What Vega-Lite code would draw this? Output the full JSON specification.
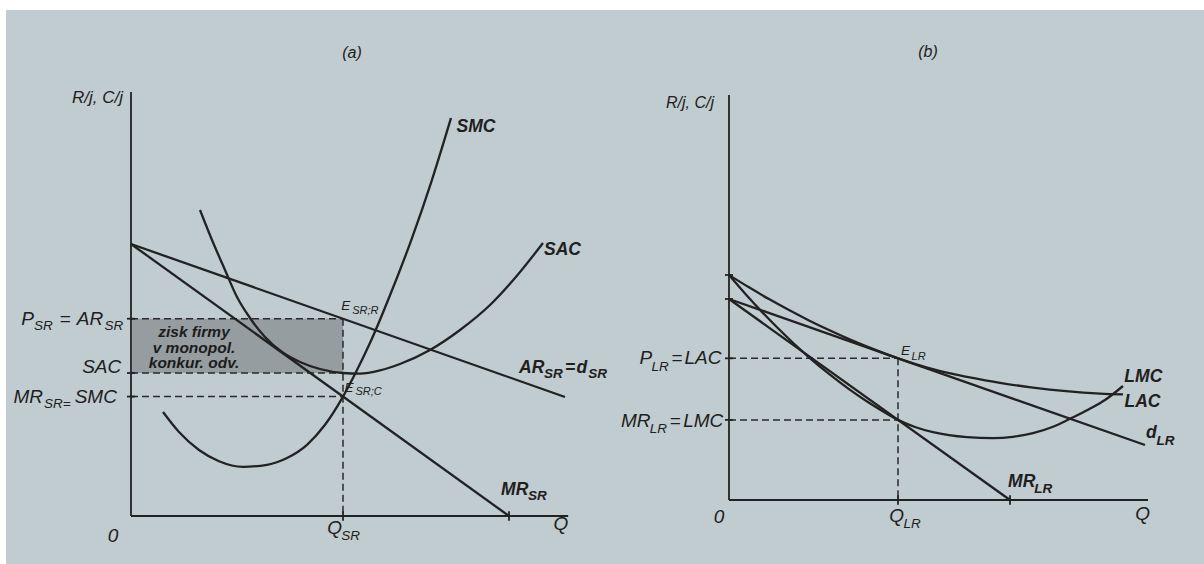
{
  "$schema": "https://vega.github.io/schema/vega-lite/v6.json",
  "background": "white",
  "padding": {"left": 6, "top": 10, "right": 0, "bottom": 0},
  "spacing": 0,
  "bounds": "flush",
  "config": {
    "view": {"stroke": null, "fill": "#c1ccd0"},
    "text": {"font": "Liberation Sans", "color": "#202020"}
  },
  "datasets": {
    "a_axes": [
      {"q": 0, "p": 0, "q2": 0, "p2": 10.6},
      {"q": 0, "p": 0, "q2": 10.93, "p2": 0},
      {"q": -0.1, "p": 4.932, "q2": 0.1, "p2": 4.932},
      {"q": -0.1, "p": 3.575, "q2": 0.1, "p2": 3.575},
      {"q": -0.1, "p": 2.986, "q2": 0.1, "p2": 2.986},
      {"q": 5.3, "p": -0.12, "q2": 5.3, "p2": 0.12},
      {"q": 9.45, "p": -0.12, "q2": 9.45, "p2": 0.12}
    ],
    "a_dash": [
      {"q": 0, "p": 4.932, "q2": 5.3, "p2": 4.932},
      {"q": 0, "p": 3.575, "q2": 5.3, "p2": 3.575},
      {"q": 0, "p": 2.986, "q2": 5.3, "p2": 2.986},
      {"q": 5.3, "p": 4.932, "q2": 5.3, "p2": 0}
    ],
    "a_box": [{"q": 0.03, "p": 3.575, "q2": 5.3, "p2": 4.932}],
    "a_curves": [
      {"curve": "AR", "q": 0, "p": 6.8},
      {"curve": "AR", "q": 10.85, "p": 2.975},
      {"curve": "MR", "q": 0, "p": 6.8},
      {"curve": "MR", "q": 9.45, "p": 0},
      {"curve": "SAC", "q": 1.725, "p": 7.65},
      {"curve": "SAC", "q": 2.025, "p": 6.9},
      {"curve": "SAC", "q": 2.35, "p": 6.15},
      {"curve": "SAC", "q": 2.65, "p": 5.475},
      {"curve": "SAC", "q": 2.975, "p": 4.95},
      {"curve": "SAC", "q": 3.35, "p": 4.475},
      {"curve": "SAC", "q": 3.775, "p": 4.1},
      {"curve": "SAC", "q": 4.225, "p": 3.85},
      {"curve": "SAC", "q": 4.725, "p": 3.675},
      {"curve": "SAC", "q": 5.3, "p": 3.575},
      {"curve": "SAC", "q": 5.725, "p": 3.56},
      {"curve": "SAC", "q": 6.225, "p": 3.64},
      {"curve": "SAC", "q": 6.725, "p": 3.8},
      {"curve": "SAC", "q": 7.475, "p": 4.15},
      {"curve": "SAC", "q": 8.225, "p": 4.65},
      {"curve": "SAC", "q": 8.975, "p": 5.275},
      {"curve": "SAC", "q": 9.6, "p": 5.95},
      {"curve": "SAC", "q": 10.3, "p": 6.825},
      {"curve": "SMC", "q": 0.8, "p": 2.6},
      {"curve": "SMC", "q": 1.2, "p": 2.1},
      {"curve": "SMC", "q": 1.7, "p": 1.65},
      {"curve": "SMC", "q": 2.2, "p": 1.37},
      {"curve": "SMC", "q": 2.8, "p": 1.23},
      {"curve": "SMC", "q": 3.4, "p": 1.28},
      {"curve": "SMC", "q": 3.9, "p": 1.45},
      {"curve": "SMC", "q": 4.4, "p": 1.78},
      {"curve": "SMC", "q": 4.85, "p": 2.28},
      {"curve": "SMC", "q": 5.3, "p": 2.986},
      {"curve": "SMC", "q": 5.6, "p": 3.55},
      {"curve": "SMC", "q": 6.0, "p": 4.38},
      {"curve": "SMC", "q": 6.5, "p": 5.58},
      {"curve": "SMC", "q": 7.0, "p": 6.88},
      {"curve": "SMC", "q": 7.5, "p": 8.33},
      {"curve": "SMC", "q": 8.0, "p": 9.95}
    ],
    "a_text": [
      {"k": "ti", "t": "(a)", "q": 5.525, "p": 11.45},
      {"k": "axm", "t": "R/j, C/j", "q": -0.838, "p": 10.33},
      {"k": "ax", "t": "P", "q": -2.588, "p": 4.775},
      {"k": "axs", "t": "SR", "q": -2.193, "p": 4.65},
      {"k": "ax", "t": "=", "q": -1.65, "p": 4.775},
      {"k": "ax", "t": "AR", "q": -1.025, "p": 4.775},
      {"k": "axs", "t": "SR", "q": -0.43, "p": 4.65},
      {"k": "ax", "t": "SAC", "q": -0.733, "p": 3.575},
      {"k": "ax", "t": "MR", "q": -2.568, "p": 2.825},
      {"k": "axs", "t": "SR", "q": -1.943, "p": 2.7},
      {"k": "axs", "t": "=", "q": -1.608, "p": 2.7},
      {"k": "ax", "t": "SMC", "q": -0.88, "p": 2.825},
      {"k": "ax", "t": "0", "q": -0.45, "p": -0.65},
      {"k": "ax", "t": "Q", "q": 5.088, "p": -0.45},
      {"k": "axs", "t": "SR", "q": 5.488, "p": -0.6},
      {"k": "ax", "t": "Q", "q": 10.75, "p": -0.35},
      {"k": "cv", "t": "SMC", "q": 8.625, "p": 9.608},
      {"k": "cv", "t": "SAC", "q": 10.788, "p": 6.525},
      {"k": "cv", "t": "AR", "q": 10.018, "p": 3.568},
      {"k": "cvs", "t": "SR", "q": 10.558, "p": 3.443},
      {"k": "cv", "t": "=", "q": 10.975, "p": 3.568},
      {"k": "cv", "t": "d", "q": 11.268, "p": 3.568},
      {"k": "cvs", "t": "SR", "q": 11.663, "p": 3.443},
      {"k": "cv", "t": "MR", "q": 9.593, "p": 0.525},
      {"k": "cvs", "t": "SR", "q": 10.158, "p": 0.4},
      {"k": "pt", "t": "E", "q": 5.37, "p": 5.15},
      {"k": "pts", "t": "SR;R", "q": 5.86, "p": 5.05},
      {"k": "pt", "t": "E", "q": 5.45, "p": 3.1},
      {"k": "pts", "t": "SR;C", "q": 5.94, "p": 3.013},
      {"k": "bx", "t": "zisk firmy", "q": 1.575, "p": 4.483},
      {"k": "bx", "t": "v monopol.", "q": 1.575, "p": 4.068},
      {"k": "bx", "t": "konkur. odv.", "q": 1.575, "p": 3.693}
    ],
    "b_axes": [
      {"q": 0, "p": 0, "q2": 0, "p2": 10.125},
      {"q": 0, "p": 0, "q2": 10.475, "p2": 0},
      {"q": -0.1, "p": 5.625, "q2": 0.1, "p2": 5.625},
      {"q": -0.1, "p": 5.025, "q2": 0.1, "p2": 5.025},
      {"q": -0.1, "p": 3.542, "q2": 0.1, "p2": 3.542},
      {"q": -0.1, "p": 2.003, "q2": 0.1, "p2": 2.003},
      {"q": 4.225, "p": -0.12, "q2": 4.225, "p2": 0.12},
      {"q": 7.025, "p": -0.12, "q2": 7.025, "p2": 0.12}
    ],
    "b_dash": [
      {"q": 0, "p": 3.542, "q2": 4.225, "p2": 3.542},
      {"q": 0, "p": 2.003, "q2": 4.225, "p2": 2.003},
      {"q": 4.225, "p": 3.542, "q2": 4.225, "p2": 0}
    ],
    "b_curves": [
      {"curve": "d", "q": 0, "p": 5.025},
      {"curve": "d", "q": 10.4, "p": 1.375},
      {"curve": "MR", "q": 0, "p": 5.025},
      {"curve": "MR", "q": 7.025, "p": 0},
      {"curve": "LAC", "q": 0, "p": 5.625},
      {"curve": "LAC", "q": 0.5, "p": 5.316},
      {"curve": "LAC", "q": 1.0, "p": 5.023},
      {"curve": "LAC", "q": 1.5, "p": 4.748},
      {"curve": "LAC", "q": 2.0, "p": 4.489},
      {"curve": "LAC", "q": 2.5, "p": 4.248},
      {"curve": "LAC", "q": 3.0, "p": 4.022},
      {"curve": "LAC", "q": 3.5, "p": 3.814},
      {"curve": "LAC", "q": 4.0, "p": 3.623},
      {"curve": "LAC", "q": 4.225, "p": 3.542},
      {"curve": "LAC", "q": 4.6, "p": 3.418},
      {"curve": "LAC", "q": 5.025, "p": 3.29},
      {"curve": "LAC", "q": 5.5, "p": 3.17},
      {"curve": "LAC", "q": 5.95, "p": 3.08},
      {"curve": "LAC", "q": 6.775, "p": 2.93},
      {"curve": "LAC", "q": 7.6, "p": 2.81},
      {"curve": "LAC", "q": 8.425, "p": 2.72},
      {"curve": "LAC", "q": 9.275, "p": 2.66},
      {"curve": "LAC", "q": 9.85, "p": 2.64},
      {"curve": "LMC", "q": 0, "p": 5.625},
      {"curve": "LMC", "q": 0.4, "p": 5.165},
      {"curve": "LMC", "q": 0.8, "p": 4.729},
      {"curve": "LMC", "q": 1.2, "p": 4.318},
      {"curve": "LMC", "q": 1.6, "p": 3.931},
      {"curve": "LMC", "q": 2.0, "p": 3.568},
      {"curve": "LMC", "q": 2.5, "p": 3.151},
      {"curve": "LMC", "q": 3.0, "p": 2.771},
      {"curve": "LMC", "q": 3.5, "p": 2.429},
      {"curve": "LMC", "q": 4.0, "p": 2.127},
      {"curve": "LMC", "q": 4.225, "p": 2.003},
      {"curve": "LMC", "q": 4.65, "p": 1.825},
      {"curve": "LMC", "q": 5.1, "p": 1.695},
      {"curve": "LMC", "q": 5.5, "p": 1.62},
      {"curve": "LMC", "q": 5.95, "p": 1.57},
      {"curve": "LMC", "q": 6.6, "p": 1.545},
      {"curve": "LMC", "q": 7.1, "p": 1.58},
      {"curve": "LMC", "q": 7.6, "p": 1.67},
      {"curve": "LMC", "q": 8.1, "p": 1.83},
      {"curve": "LMC", "q": 8.525, "p": 2.03},
      {"curve": "LMC", "q": 9.0, "p": 2.27},
      {"curve": "LMC", "q": 9.4, "p": 2.5},
      {"curve": "LMC", "q": 9.85, "p": 2.85}
    ],
    "b_text": [
      {"k": "ti", "t": "(b)", "q": 4.975, "p": 11.075},
      {"k": "axm", "t": "R/j, C/j", "q": -0.975, "p": 9.8},
      {"k": "ax", "t": "P", "q": -2.08, "p": 3.4},
      {"k": "axs", "t": "LR", "q": -1.725, "p": 3.233},
      {"k": "ax", "t": "=", "q": -1.308, "p": 3.4},
      {"k": "ax", "t": "LAC", "q": -0.65, "p": 3.4},
      {"k": "ax", "t": "MR", "q": -2.33, "p": 1.833},
      {"k": "axs", "t": "LR", "q": -1.768, "p": 1.683},
      {"k": "ax", "t": "=", "q": -1.35, "p": 1.833},
      {"k": "ax", "t": "LMC", "q": -0.643, "p": 1.833},
      {"k": "ax", "t": "0", "q": -0.25, "p": -0.583},
      {"k": "ax", "t": "Q", "q": 4.193, "p": -0.543},
      {"k": "axs", "t": "LR", "q": 4.575, "p": -0.708},
      {"k": "ax", "t": "Q", "q": 10.338, "p": -0.5},
      {"k": "cv", "t": "MR", "q": 7.318, "p": 0.333},
      {"k": "cvs", "t": "LR", "q": 7.858, "p": 0.183},
      {"k": "cv", "t": "d", "q": 10.558, "p": 1.543},
      {"k": "cvs", "t": "LR", "q": 10.913, "p": 1.375},
      {"k": "cv", "t": "LMC", "q": 10.358, "p": 2.958},
      {"k": "cv", "t": "LAC", "q": 10.338, "p": 2.333},
      {"k": "pt", "t": "E", "q": 4.41, "p": 3.625},
      {"k": "pts", "t": "LR", "q": 4.74, "p": 3.5}
    ]
  },
  "hconcat": [
    {
      "width": 610,
      "height": 554,
      "encoding": {
        "x": {"field": "q", "type": "quantitative", "scale": {"domain": [-3.125, 12.125], "nice": false, "zero": false}, "axis": null},
        "y": {"field": "p", "type": "quantitative", "scale": {"domain": [-1.2, 12.65], "nice": false, "zero": false}, "axis": null}
      },
      "layer": [
        {"data": {"name": "a_box"}, "mark": {"type": "rect", "fill": "#959da0"}, "encoding": {"x2": {"field": "q2"}, "y2": {"field": "p2"}}},
        {"data": {"name": "a_dash"}, "mark": {"type": "rule", "strokeDash": [7, 4], "strokeWidth": 1.5, "color": "#2a2a2a"}, "encoding": {"x2": {"field": "q2"}, "y2": {"field": "p2"}}},
        {"data": {"name": "a_axes"}, "mark": {"type": "rule", "strokeWidth": 1.8, "color": "#222222"}, "encoding": {"x2": {"field": "q2"}, "y2": {"field": "p2"}}},
        {"data": {"name": "a_curves"}, "mark": {"type": "line", "strokeWidth": 2.3, "color": "#222222", "interpolate": "monotone"}, "encoding": {"detail": {"field": "curve"}, "order": {"field": "q"}}},
        {"data": {"name": "a_text"}, "transform": [{"filter": "datum.k == 'ti'"}], "mark": {"type": "text", "align": "center", "baseline": "alphabetic", "fontSize": 16, "fontStyle": "italic"}, "encoding": {"text": {"field": "t"}}},
        {"data": {"name": "a_text"}, "transform": [{"filter": "datum.k == 'axm'"}], "mark": {"type": "text", "align": "center", "baseline": "alphabetic", "fontSize": 17, "fontStyle": "italic"}, "encoding": {"text": {"field": "t"}}},
        {"data": {"name": "a_text"}, "transform": [{"filter": "datum.k == 'ax'"}], "mark": {"type": "text", "align": "center", "baseline": "alphabetic", "fontSize": 19, "fontStyle": "italic"}, "encoding": {"text": {"field": "t"}}},
        {"data": {"name": "a_text"}, "transform": [{"filter": "datum.k == 'axs'"}], "mark": {"type": "text", "align": "center", "baseline": "alphabetic", "fontSize": 13.5, "fontStyle": "italic"}, "encoding": {"text": {"field": "t"}}},
        {"data": {"name": "a_text"}, "transform": [{"filter": "datum.k == 'cv'"}], "mark": {"type": "text", "align": "center", "baseline": "alphabetic", "fontSize": 17.5, "fontStyle": "italic", "fontWeight": "bold"}, "encoding": {"text": {"field": "t"}}},
        {"data": {"name": "a_text"}, "transform": [{"filter": "datum.k == 'cvs'"}], "mark": {"type": "text", "align": "center", "baseline": "alphabetic", "fontSize": 13.5, "fontStyle": "italic", "fontWeight": "bold"}, "encoding": {"text": {"field": "t"}}},
        {"data": {"name": "a_text"}, "transform": [{"filter": "datum.k == 'pt'"}], "mark": {"type": "text", "align": "center", "baseline": "alphabetic", "fontSize": 13.5, "fontStyle": "italic"}, "encoding": {"text": {"field": "t"}}},
        {"data": {"name": "a_text"}, "transform": [{"filter": "datum.k == 'pts'"}], "mark": {"type": "text", "align": "center", "baseline": "alphabetic", "fontSize": 11, "fontStyle": "italic"}, "encoding": {"text": {"field": "t"}}},
        {"data": {"name": "a_text"}, "transform": [{"filter": "datum.k == 'bx'"}], "mark": {"type": "text", "align": "center", "baseline": "alphabetic", "fontSize": 15.5, "fontStyle": "italic", "fontWeight": "bold", "color": "#1c1c1c"}, "encoding": {"text": {"field": "t"}}}
      ]
    },
    {
      "width": 588,
      "height": 554,
      "encoding": {
        "x": {"field": "q", "type": "quantitative", "scale": {"domain": [-2.825, 11.875], "nice": false, "zero": false}, "axis": null},
        "y": {"field": "p", "type": "quantitative", "scale": {"domain": [-1.6, 12.25], "nice": false, "zero": false}, "axis": null}
      },
      "layer": [
        {"data": {"name": "b_dash"}, "mark": {"type": "rule", "strokeDash": [7, 4], "strokeWidth": 1.5, "color": "#2a2a2a"}, "encoding": {"x2": {"field": "q2"}, "y2": {"field": "p2"}}},
        {"data": {"name": "b_axes"}, "mark": {"type": "rule", "strokeWidth": 1.8, "color": "#222222"}, "encoding": {"x2": {"field": "q2"}, "y2": {"field": "p2"}}},
        {"data": {"name": "b_curves"}, "mark": {"type": "line", "strokeWidth": 2.3, "color": "#222222", "interpolate": "monotone"}, "encoding": {"detail": {"field": "curve"}, "order": {"field": "q"}}},
        {"data": {"name": "b_text"}, "transform": [{"filter": "datum.k == 'ti'"}], "mark": {"type": "text", "align": "center", "baseline": "alphabetic", "fontSize": 16, "fontStyle": "italic"}, "encoding": {"text": {"field": "t"}}},
        {"data": {"name": "b_text"}, "transform": [{"filter": "datum.k == 'axm'"}], "mark": {"type": "text", "align": "center", "baseline": "alphabetic", "fontSize": 16, "fontStyle": "italic"}, "encoding": {"text": {"field": "t"}}},
        {"data": {"name": "b_text"}, "transform": [{"filter": "datum.k == 'ax'"}], "mark": {"type": "text", "align": "center", "baseline": "alphabetic", "fontSize": 19, "fontStyle": "italic"}, "encoding": {"text": {"field": "t"}}},
        {"data": {"name": "b_text"}, "transform": [{"filter": "datum.k == 'axs'"}], "mark": {"type": "text", "align": "center", "baseline": "alphabetic", "fontSize": 13.5, "fontStyle": "italic"}, "encoding": {"text": {"field": "t"}}},
        {"data": {"name": "b_text"}, "transform": [{"filter": "datum.k == 'cv'"}], "mark": {"type": "text", "align": "center", "baseline": "alphabetic", "fontSize": 17.5, "fontStyle": "italic", "fontWeight": "bold"}, "encoding": {"text": {"field": "t"}}},
        {"data": {"name": "b_text"}, "transform": [{"filter": "datum.k == 'cvs'"}], "mark": {"type": "text", "align": "center", "baseline": "alphabetic", "fontSize": 13.5, "fontStyle": "italic", "fontWeight": "bold"}, "encoding": {"text": {"field": "t"}}},
        {"data": {"name": "b_text"}, "transform": [{"filter": "datum.k == 'pt'"}], "mark": {"type": "text", "align": "center", "baseline": "alphabetic", "fontSize": 13.5, "fontStyle": "italic"}, "encoding": {"text": {"field": "t"}}},
        {"data": {"name": "b_text"}, "transform": [{"filter": "datum.k == 'pts'"}], "mark": {"type": "text", "align": "center", "baseline": "alphabetic", "fontSize": 11, "fontStyle": "italic"}, "encoding": {"text": {"field": "t"}}}
      ]
    }
  ]
}
